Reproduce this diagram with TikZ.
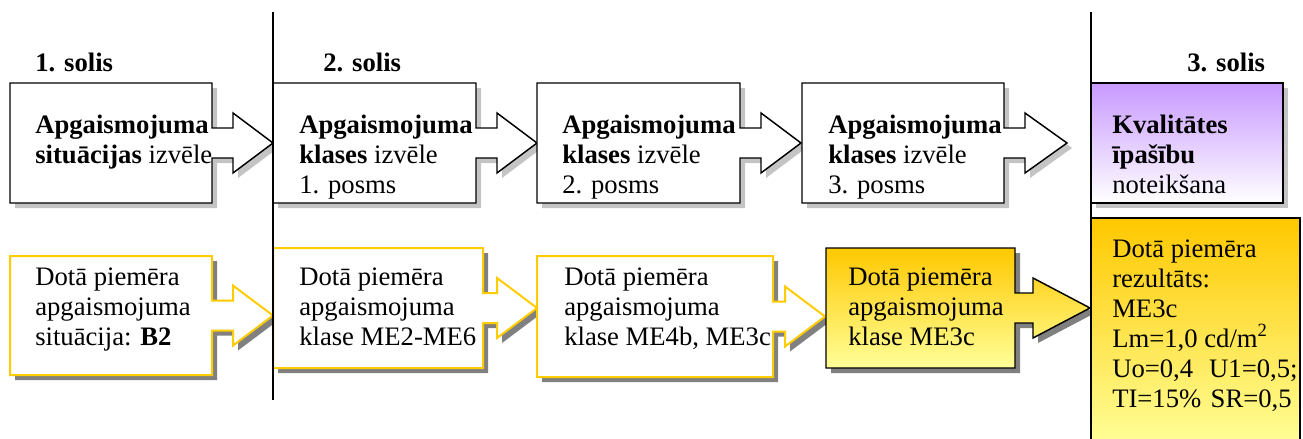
\documentclass[tikz,border=0pt]{standalone}
\usepackage{fontspec}
\setmainfont{Liberation Serif}
\definecolor{goldLine}{HTML}{FFCC00}
\definecolor{goldTop}{HTML}{FFC800}
\definecolor{goldBot}{HTML}{FFFF99}
\definecolor{lilacTop}{HTML}{C899FF}
\definecolor{shadeLight}{HTML}{C4C4C4}
\definecolor{shadeDark}{HTML}{808080}
% half heights of arrow shaft and arrow head (px)
\def\sh{15}
\def\hh{30}
% box with a fused block arrow on its right side:
% left, top, right, bottom, head start, tip
\newcommand{\arrowoutline}[6]{%
  (#1,#2) -- (#3,#2) -- (#3,{(#2+#4)/2-\sh}) -- (#5,{(#2+#4)/2-\sh})
  -- (#5,{(#2+#4)/2-\hh}) -- (#6,{(#2+#4)/2}) -- (#5,{(#2+#4)/2+\hh})
  -- (#5,{(#2+#4)/2+\sh}) -- (#3,{(#2+#4)/2+\sh}) -- (#3,#4) -- (#1,#4) -- cycle}

\begin{document}
\begin{tikzpicture}[
    x=0.75pt, y=-0.75pt,
    % multi-line nodes sit on the baseline of their last line
    every node/.style={font=\fontsize{20}{22.5}\selectfont, inner sep=0pt,
                       align=left, anchor=base west},
    steplabel/.style={font=\fontsize{20}{22.5}\selectfont\bfseries},
    stepbox/.style={draw=black, line width=1.1pt, fill=white},
    examplebox/.style={draw=goldLine, line width=1.5pt, fill=white},
    lightshadow/.style={fill=shadeLight, shift={(5,5)}},
    darkshadow/.style={fill=shadeDark, shift={(5,5)}},
    divider/.style={draw=black, line width=1.5pt},
    ]
\useasboundingbox (0,0) rectangle (1303,439);

% ---------------- upper row: selection steps ----------------
\fill[lightshadow] \arrowoutline{10}{83}{212}{203}{233}{273};
\fill[lightshadow] \arrowoutline{273}{83}{476}{203}{497}{537};
\fill[lightshadow] \arrowoutline{537}{83}{740}{203}{761}{801};
\fill[lightshadow] \arrowoutline{802}{83}{1004}{203}{1025}{1067};
\fill[lightshadow] (1091,83) rectangle (1283,203);

\path[stepbox] \arrowoutline{10}{83}{212}{203}{233}{273};
\path[stepbox] \arrowoutline{273}{83}{476}{203}{497}{537};
\path[stepbox] \arrowoutline{537}{83}{740}{203}{761}{801};
\path[stepbox] \arrowoutline{802}{83}{1004}{203}{1025}{1067};
\shade[top color=lilacTop, bottom color=white]
  (1091,83) rectangle (1283,203);
\draw[line width=1.1pt] (1091,83) rectangle (1283,203);

% ---------------- lower row: worked example ----------------
\fill[darkshadow] \arrowoutline{10}{256}{212}{375}{233}{273};
\fill[darkshadow] \arrowoutline{273}{248}{483}{368}{497}{537};
\fill[darkshadow] \arrowoutline{537}{256}{773}{377}{785}{825};
\fill[darkshadow] \arrowoutline{826}{248}{1015}{368}{1033}{1090};

\path[examplebox] \arrowoutline{10}{256}{212}{375}{233}{273};
\path[examplebox] \arrowoutline{273}{248}{483}{368}{497}{537};
\path[examplebox] \arrowoutline{537}{256}{773}{377}{785}{825};
\shade[top color=goldTop, bottom color=goldBot]
  \arrowoutline{826}{248}{1015}{368}{1033}{1090};
\draw[line width=1.1pt] \arrowoutline{826}{248}{1015}{368}{1033}{1090};

% result panel, runs off the page at the bottom
\shade[top color=goldTop, bottom color=goldBot]
  (1091,218) rectangle (1300,445);
\draw[line width=1.1pt] (1091,445) -- (1091,218) -- (1300,218) -- (1300,445);

% step dividers
\draw[divider] (273,12) -- (273,400);
\draw[divider] (1091,12) -- (1091,445);

% ---------------- texts ----------------
\node[steplabel] (step1) at (35,71) {1. solis};
\node[steplabel] (step2) at (323,71) {2. solis};
\node[steplabel] (step3) at (1187,71) {3. solis};

\node (sel1) at (35,163) {\textbf{Apgaismojuma}\\\textbf{situācijas} izvēle};
\node (sel2) at (299,193) {\textbf{Apgaismojuma}\\\textbf{klases} izvēle\\1. posms};
\node (sel3) at (562,193) {\textbf{Apgaismojuma}\\\textbf{klases} izvēle\\2. posms};
\node (sel4) at (828,193) {\textbf{Apgaismojuma}\\\textbf{klases} izvēle\\3. posms};
\node (qual) at (1112,193) {\textbf{Kvalitātes}\\\textbf{īpašību}\\noteikšana};

\node (ex1) at (35,345) {Dotā piemēra\\apgaismojuma\\situācija: \textbf{B2}};
\node (ex2) at (299,345) {Dotā piemēra\\apgaismojuma\\klase ME2-ME6};
\node (ex3) at (564,345) {Dotā piemēra\\apgaismojuma\\klase ME4b, ME3c};
\node (ex4) at (848,345) {Dotā piemēra\\apgaismojuma\\klase ME3c};
\node (res) at (1112,407) {Dotā piemēra\\rezultāts:\\ME3c\\Lm=1,0 cd/m\textsuperscript{2}\\
  Uo=0,4\hspace{0.6em}U1=0,5;\\TI=15\%\hspace{0.35em}SR=0,5};

\end{tikzpicture}
\end{document}
